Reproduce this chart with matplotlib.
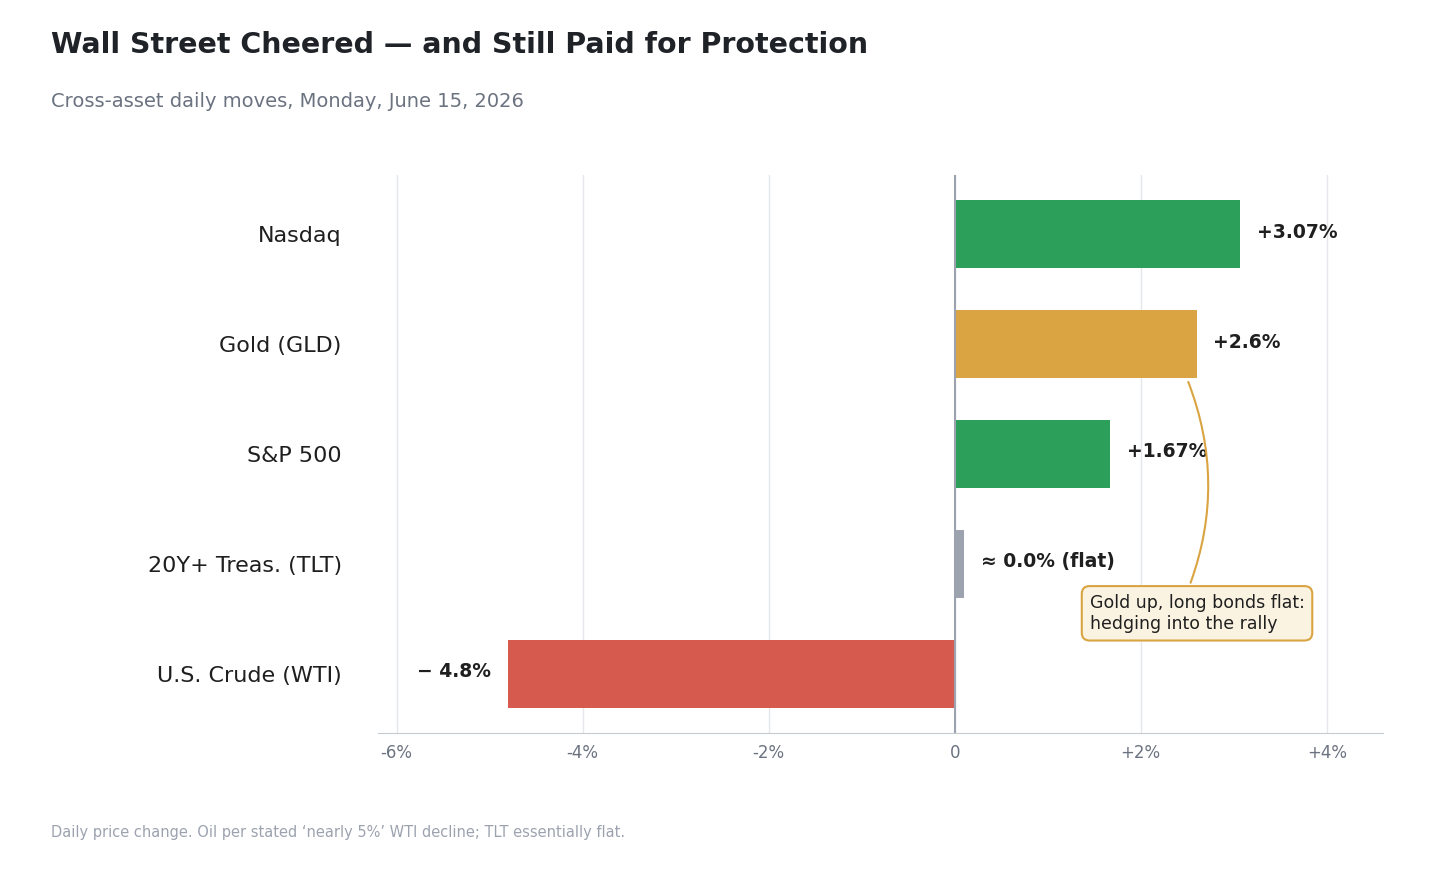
import matplotlib
matplotlib.use("Agg")
import matplotlib.pyplot as plt

categories = ["Nasdaq", "Gold (GLD)", "S&P 500", "20Y+ Treas. (TLT)", "U.S. Crude (WTI)"]
values = [3.07, 2.6, 1.67, 0.0, -4.8]
labels = ["+3.07%", "+2.6%", "+1.67%", "≈ 0.0% (flat)", "− 4.8%"]
colors = ["#2ca05a", "#d9a441", "#2ca05a", "#9ca3af", "#d65a4e"]
xticks = [-6, -4, -2, 0, 2, 4]
xticklabels = ["-6%", "-4%", "-2%", "0", "+2%", "+4%"]

fig = plt.figure(figsize=(14.56, 8.74), dpi=100)
ax = fig.add_axes([0.2596, 0.1613, 0.690, 0.6384])

ypos = list(range(len(categories)))
widths = [v if abs(v) > 0.05 else 0.1 for v in values]
ax.barh(ypos, widths, height=0.62, color=colors, zorder=3)
ax.set_ylim(len(categories) - 0.46, -0.54)
ax.set_xlim(-6.2, 4.6)

for y, v, lab in zip(ypos, widths, labels):
    if v >= 0:
        ax.text(v + 0.18, y - 0.02, lab, va="center", ha="left", fontsize=13.5,
                fontweight="bold", color="#1f1f1f", zorder=5)
    else:
        ax.text(v - 0.18, y - 0.02, lab, va="center", ha="right", fontsize=13.5,
                fontweight="bold", color="#1f1f1f", zorder=5)

ax.set_yticks(ypos)
ax.set_yticklabels(categories, fontsize=16, color="#1f1f1f")
ax.set_xticks(xticks)
ax.set_xticklabels(xticklabels, fontsize=12, color="#6b7280")
ax.tick_params(axis="y", length=0, pad=26)
ax.tick_params(axis="x", length=0, pad=8)
ax.grid(axis="x", color="#e5e7eb", linewidth=1, zorder=0)
ax.axvline(0, color="#9ca3af", linewidth=1.5, zorder=4)
for s in ["top", "right", "left"]:
    ax.spines[s].set_visible(False)
ax.spines["bottom"].set_color("#c7cad1")

ax.annotate("Gold up, long bonds flat:\nhedging into the rally",
            xy=(2.5, 1.32), xytext=(1.45, 3.45), fontsize=12.5, color="#1f1f1f",
            va="center", ha="left", zorder=6,
            bbox=dict(boxstyle="round,pad=0.45", fc="#fbf3e2", ec="#d9a441", lw=1.5),
            arrowprops=dict(arrowstyle="-", color="#d9a441", lw=1.5,
                            connectionstyle="arc3,rad=0.2",
                            relpos=(0.45, 1.0)))

fig.text(0.035, 0.949, "Wall Street Cheered — and Still Paid for Protection",
         fontsize=20.5, fontweight="bold", color="#1f2328", va="center")
fig.text(0.035, 0.884, "Cross-asset daily moves, Monday, June 15, 2026",
         fontsize=14, color="#6b7280", va="center")
fig.text(0.035, 0.047, "Daily price change. Oil per stated ‘nearly 5%’ WTI decline; TLT essentially flat.",
         fontsize=10.5, color="#9ca3af", va="center")

fig.savefig("out.png", dpi=100, facecolor="white")
